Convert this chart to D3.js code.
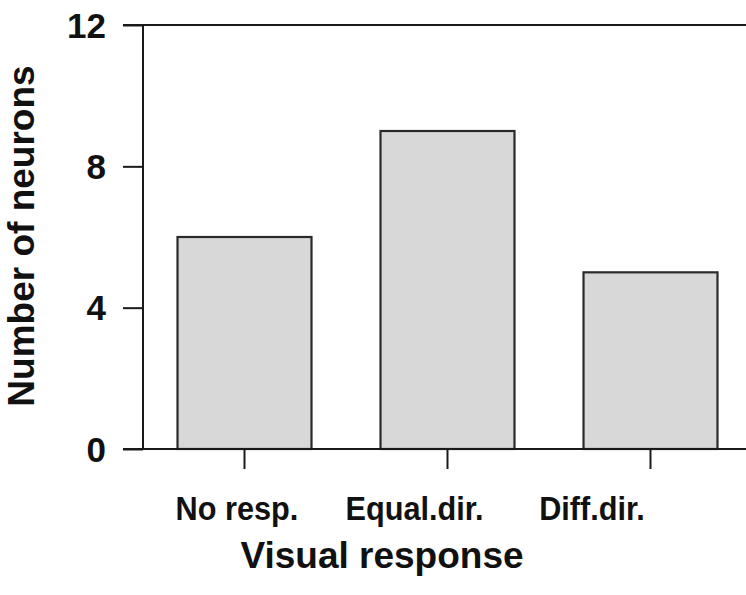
<!DOCTYPE html>
<html>
<head>
<meta charset="utf-8">
<script src="https://cdn.jsdelivr.net/npm/d3@7"></script>
<style>
  body { margin: 0; background: #fff; }
  text { font-family: "Liberation Sans", Arial, Helvetica, sans-serif; font-weight: bold; fill: #111; }
</style>
</head>
<body>
<svg id="vis-svg"></svg>
<script>
/** * * * * * * DATA * * * * */
const categories = ['No resp.', 'Equal.dir.', 'Diff.dir.'];
const counts = [6, 9, 5];
const yTicks = [0, 4, 8, 12];

/** * * * * * * CONSTANTS * * * * */
const width = 746;
const height = 595;
const plot = { left: 143, right: 746, top: 25, bottom: 449 };
const ink = '#1a1a1a';

let svg = d3.select('#vis-svg')
  .attr('width', width)
  .attr('height', height);

// scales
let xScale = d3.scaleBand()
  .domain(categories)
  .range([plot.left, 752])
  .paddingInner(0.34)
  .paddingOuter(0.17);

let yScale = d3.scaleLinear()
  .domain([0, 12])
  .range([plot.bottom, plot.top]);

// labels sit a bit left of the ticks in the original figure
let labelScale = d3.scalePoint()
  .domain(categories)
  .range([237, 592]);

// bars
svg.selectAll('rect.bar')
  .data(counts)
  .enter()
  .append('rect')
  .attr('class', 'bar')
  .attr('x', (d, i) => xScale(categories[i]))
  .attr('y', d => yScale(d))
  .attr('width', xScale.bandwidth())
  .attr('height', d => yScale(0) - yScale(d))
  .attr('fill', '#d8d8d8')
  .attr('stroke', '#2a2a2a')
  .attr('stroke-width', 2.2);

// y axis
let yAxis = svg.append('g')
  .attr('transform', `translate(${plot.left},0)`)
  .call(d3.axisLeft(yScale).tickValues(yTicks).tickSize(20).tickPadding(17));
yAxis.select('.domain').remove();
yAxis.selectAll('line').attr('stroke', ink).attr('stroke-width', 2);
yAxis.selectAll('text')
  .attr('fill', ink)
  .style('font-size', '35px')
  .style('font-weight', 'bold')
  .style('font-family', '"Liberation Sans", Arial, sans-serif')
  .attr('dy', '0.35em');

svg.append('line')
  .attr('x1', plot.left).attr('x2', plot.left)
  .attr('y1', yScale(12)).attr('y2', yScale(0))
  .attr('stroke', ink).attr('stroke-width', 2);

// top frame line and baseline
[12, 0].forEach(v => {
  svg.append('line')
    .attr('x1', plot.left - 20).attr('x2', plot.right)
    .attr('y1', yScale(v)).attr('y2', yScale(v))
    .attr('stroke', ink).attr('stroke-width', 2.2);
});

// x ticks
let xAxis = svg.append('g')
  .attr('transform', `translate(0,${plot.bottom})`)
  .call(d3.axisBottom(xScale).tickSize(20));
xAxis.select('.domain').remove();
xAxis.selectAll('text').remove();
xAxis.selectAll('line').attr('stroke', ink).attr('stroke-width', 2);

// category labels (slightly condensed, like the original Helvetica)
svg.selectAll('text.cat')
  .data(categories)
  .enter()
  .append('text')
  .attr('class', 'cat')
  .attr('transform', d => `translate(${labelScale(d)},520) scale(0.93,1)`)
  .attr('text-anchor', 'middle')
  .style('font-size', '33px')
  .text(d => d);

// axis titles
svg.append('text')
  .attr('x', 382)
  .attr('y', 568)
  .attr('text-anchor', 'middle')
  .style('font-size', '37px')
  .text('Visual response');

svg.append('text')
  .attr('transform', 'translate(34,236) rotate(-90)')
  .attr('text-anchor', 'middle')
  .style('font-size', '37px')
  .text('Number of neurons');
</script>
</body>
</html>
